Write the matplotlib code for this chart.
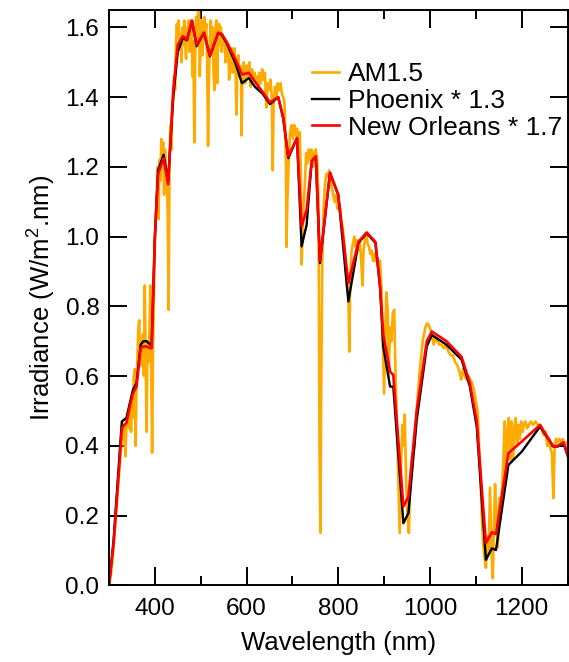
import numpy as np
import matplotlib
matplotlib.use("Agg")
import matplotlib.pyplot as plt
from matplotlib.ticker import MultipleLocator, FormatStrFormatter

plt.rcParams['font.family'] = ['Liberation Sans', 'DejaVu Sans']
plt.rcParams['mathtext.fontset'] = 'custom'
plt.rcParams['mathtext.rm'] = 'Liberation Sans'

# AM1.5 reference spectrum
am15_nm = [300, 304, 308, 312, 316, 320, 324, 328, 331, 334, 336, 338, 340, 342, 344, 346, 348, 350,
           352, 354, 356, 358, 360, 362, 364, 366, 368, 370, 372, 374, 376, 378, 380, 382, 384, 386,
           388, 390, 392, 394, 396, 398, 400, 402, 404, 406, 408, 410, 412, 414, 416, 418, 420, 422,
           424, 426, 428, 430, 432, 434, 436, 438, 440, 442, 444, 446, 448, 450, 452, 454, 456, 458,
           460, 462, 464, 466, 468, 470, 472, 474, 476, 478, 480, 482, 484, 486, 488, 490, 492, 494,
           496, 498, 500, 502, 504, 506, 508, 510, 512, 514, 516, 518, 520, 522, 524, 526, 528, 530,
           532, 534, 536, 538, 540, 542, 544, 546, 548, 550, 552, 554, 556, 558, 560, 562, 564, 566,
           568, 570, 572, 574, 576, 578, 580, 582, 584, 586, 588, 589, 591, 594, 597, 600, 603, 606,
           609, 612, 615, 618, 621, 624, 626, 628, 631, 634, 637, 640, 643, 646, 649, 652, 655, 657,
           659, 662, 665, 668, 671, 674, 677, 680, 683, 686, 687, 689, 692, 695, 698, 701, 704, 707,
           710, 713, 716, 718, 720, 722, 724, 727, 730, 733, 736, 739, 742, 745, 748, 751, 754, 757,
           759, 761, 763, 765, 768, 771, 774, 777, 780, 783, 786, 789, 792, 795, 798, 801, 804, 807,
           810, 813, 816, 819, 822, 824, 826, 829, 832, 835, 838, 841, 844, 847, 850, 853, 855, 858,
           861, 864, 867, 870, 873, 876, 879, 882, 885, 888, 891, 894, 897, 900, 903, 905, 908, 910,
           913, 916, 919, 922, 925, 928, 931, 934, 937, 940, 943, 945, 948, 951, 954, 957, 960, 963,
           966, 969, 972, 975, 978, 981, 984, 987, 990, 993, 996, 999, 1002, 1005, 1008, 1011, 1014,
           1017, 1020, 1025, 1030, 1035, 1040, 1045, 1050, 1055, 1060, 1065, 1068, 1072, 1076, 1080,
           1084, 1088, 1092, 1096, 1100, 1104, 1107, 1110, 1113, 1116, 1119, 1122, 1125, 1128, 1131,
           1134, 1137, 1140, 1142, 1145, 1148, 1151, 1154, 1157, 1160, 1163, 1166, 1169, 1172, 1175,
           1178, 1181, 1184, 1187, 1190, 1193, 1196, 1199, 1202, 1205, 1208, 1212, 1216, 1220, 1225,
           1230, 1235, 1240, 1244, 1248, 1252, 1256, 1260, 1263, 1266, 1269, 1272, 1275, 1278, 1282,
           1286, 1290, 1294, 1297, 1300]
am15_val = [0.00, 0.03, 0.08, 0.15, 0.22, 0.29, 0.36, 0.43, 0.46, 0.41, 0.37, 0.47, 0.46, 0.50, 0.45, 0.52, 0.44, 0.54,
            0.48, 0.60, 0.62, 0.40, 0.57, 0.66, 0.74, 0.76, 0.63, 0.70, 0.66, 0.72, 0.60, 0.86, 0.66, 0.44, 0.70, 0.64,
            0.72, 0.86, 0.63, 0.38, 0.68, 0.85, 0.98, 1.05, 1.12, 1.20, 1.05, 1.22, 1.16, 1.28, 1.22, 1.27, 1.12, 1.25,
            1.20, 1.18, 1.06, 0.79, 1.22, 1.32, 1.25, 1.38, 1.39, 1.46, 1.42, 1.55, 1.61, 1.57, 1.62, 1.54, 1.58, 1.50,
            1.60, 1.55, 1.62, 1.56, 1.51, 1.60, 1.57, 1.62, 1.53, 1.60, 1.62, 1.46, 1.56, 1.27, 1.52, 1.63, 1.55, 1.64,
            1.66, 1.46, 1.58, 1.62, 1.52, 1.60, 1.63, 1.58, 1.61, 1.50, 1.26, 1.46, 1.56, 1.62, 1.55, 1.60, 1.47, 1.42,
            1.59, 1.62, 1.44, 1.58, 1.61, 1.55, 1.60, 1.53, 1.58, 1.55, 1.57, 1.50, 1.56, 1.52, 1.55, 1.45, 1.53, 1.50,
            1.54, 1.47, 1.52, 1.54, 1.48, 1.35, 1.50, 1.52, 1.46, 1.49, 1.45, 1.29, 1.47, 1.50, 1.44, 1.49, 1.46, 1.50,
            1.43, 1.48, 1.45, 1.47, 1.44, 1.46, 1.42, 1.47, 1.44, 1.48, 1.45, 1.47, 1.37, 1.44, 1.42, 1.45, 1.40, 1.19,
            1.38, 1.43, 1.40, 1.44, 1.42, 1.44, 1.41, 1.40, 1.38, 1.20, 0.97, 1.10, 1.22, 1.30, 1.32, 1.28, 1.32, 1.29,
            1.31, 1.27, 1.30, 1.20, 0.92, 1.00, 1.08, 1.15, 1.24, 1.21, 1.25, 1.22, 1.25, 1.20, 1.24, 1.25, 1.22, 1.10,
            0.40, 0.15, 0.60, 0.92, 1.08, 1.15, 1.18, 1.17, 1.19, 1.16, 1.14, 1.12, 1.10, 1.12, 1.08, 1.09, 1.08, 1.04,
            1.02, 0.98, 0.93, 0.86, 0.84, 0.67, 0.88, 0.96, 0.98, 1.00, 0.97, 0.99, 0.96, 0.99, 0.93, 0.86, 0.96, 0.99,
            1.01, 0.98, 0.97, 0.95, 0.96, 0.93, 0.95, 0.93, 0.94, 0.92, 0.93, 0.86, 0.70, 0.55, 0.75, 0.84, 0.78, 0.60,
            0.74, 0.70, 0.78, 0.79, 0.60, 0.45, 0.30, 0.15, 0.35, 0.46, 0.40, 0.49, 0.30, 0.20, 0.15, 0.30, 0.36, 0.38,
            0.40, 0.46, 0.52, 0.57, 0.62, 0.66, 0.70, 0.72, 0.74, 0.75, 0.75, 0.74, 0.73, 0.71, 0.69, 0.71, 0.70,
            0.70, 0.69, 0.69, 0.68, 0.69, 0.67, 0.66, 0.66, 0.64, 0.63, 0.61, 0.59, 0.62, 0.60, 0.59,
            0.60, 0.59, 0.58, 0.56, 0.53, 0.50, 0.40, 0.32, 0.20, 0.12, 0.08, 0.05, 0.14, 0.09, 0.28,
            0.10, 0.02, 0.20, 0.29, 0.18, 0.11, 0.25, 0.20, 0.27, 0.36, 0.47, 0.33, 0.44, 0.48, 0.36,
            0.47, 0.36, 0.45, 0.48, 0.40, 0.46, 0.42, 0.47, 0.44, 0.46, 0.47, 0.45, 0.46, 0.47, 0.46,
            0.47, 0.46, 0.46, 0.45, 0.43, 0.44, 0.40, 0.42, 0.39, 0.38, 0.25, 0.40, 0.42, 0.41, 0.42,
            0.41, 0.42, 0.40, 0.41, 0.37]

# Phoenix * 1.3
phx_nm = [300, 310, 320, 328, 333, 338, 345, 352, 360, 369, 375, 382, 390, 393, 400, 407, 419, 429,
          440, 450, 461, 470, 481, 491, 507, 520, 538, 545, 556, 575, 590, 605, 618, 635, 651, 669,
          680, 691, 710, 720, 731, 742, 751, 760, 782, 800, 822, 844, 862, 881, 891, 898, 913, 920,
          942, 953, 971, 993, 1004, 1036, 1069, 1087, 1102, 1122, 1135, 1144, 1171, 1200, 1240,
          1269, 1279, 1291, 1300]
phx_val = [0.00, 0.13, 0.32, 0.47, 0.475, 0.48, 0.52, 0.56, 0.58, 0.69, 0.70, 0.70, 0.69, 0.69, 1.00, 1.19, 1.235, 1.16,
           1.40, 1.53, 1.57, 1.563, 1.618, 1.546, 1.585, 1.517, 1.584, 1.58, 1.556, 1.50, 1.44, 1.455, 1.43, 1.41, 1.38, 1.40,
           1.34, 1.225, 1.283, 0.972, 1.034, 1.216, 1.23, 0.924, 1.183, 1.12, 0.814, 0.982, 1.01, 0.982, 0.857, 0.685, 0.57, 0.57,
           0.178, 0.207, 0.474, 0.685, 0.718, 0.69, 0.647, 0.57, 0.455, 0.073, 0.106, 0.101, 0.345, 0.383, 0.455,
           0.398, 0.398, 0.408, 0.374]

# New Orleans * 1.7
nol_nm = phx_nm
nol_val = [0.00, 0.12, 0.30, 0.45, 0.46, 0.465, 0.51, 0.55, 0.57, 0.68, 0.685, 0.685, 0.68, 0.68, 1.00, 1.18, 1.225, 1.15,
           1.42, 1.55, 1.575, 1.565, 1.62, 1.55, 1.585, 1.52, 1.585, 1.582, 1.56, 1.51, 1.465, 1.47, 1.445, 1.415, 1.385, 1.40,
           1.34, 1.23, 1.283, 1.029, 1.077, 1.216, 1.23, 0.93, 1.183, 1.12, 0.867, 0.985, 1.012, 0.985, 0.86, 0.72, 0.613, 0.603,
           0.226, 0.254, 0.50, 0.70, 0.728, 0.70, 0.655, 0.58, 0.47, 0.121, 0.152, 0.147, 0.379, 0.412, 0.46,
           0.398, 0.40, 0.41, 0.374]

labels = ['AM1.5', 'Phoenix * 1.3', 'New Orleans * 1.7']

fig = plt.figure(figsize=(5.69, 6.62), dpi=100)
ax = fig.add_axes([0.1916, 0.1159, 0.8058, 0.869])

ax.plot(am15_nm, am15_val, color='#FFAA00', lw=1.9, label=labels[0])
ax.plot(phx_nm, phx_val, color='black', lw=1.7, label=labels[1])
ax.plot(nol_nm, nol_val, color='#FF0000', lw=1.9, label=labels[2])

ax.set_xlim(300, 1300)
ax.set_ylim(0, 1.65)
ax.xaxis.set_major_locator(MultipleLocator(200))
ax.xaxis.set_minor_locator(MultipleLocator(100))
ax.yaxis.set_major_locator(MultipleLocator(0.2))
ax.yaxis.set_major_formatter(FormatStrFormatter('%.1f'))
ax.tick_params(which='both', direction='in', top=True, right=True, width=1.4, labelsize=17.5)
ax.tick_params(which='major', length=13)
ax.tick_params(which='minor', length=6.5)
ax.tick_params(axis='y', pad=7)
ax.tick_params(axis='x', pad=9)
for s in ax.spines.values():
    s.set_linewidth(1.4)

ax.set_xlabel('Wavelength (nm)', fontsize=18.5, labelpad=8)
ax.set_ylabel('Irradiance (W/m$^2$.nm)', fontsize=18.5, labelpad=6)

ax.legend(loc='upper left', bbox_to_anchor=(0.548, 0.906), bbox_transform=fig.transFigure,
          frameon=False, fontsize=19, handlelength=1.02, handletextpad=0.34,
          labelspacing=0.1, borderpad=0, borderaxespad=0)

fig.savefig('out.png', dpi=100)
